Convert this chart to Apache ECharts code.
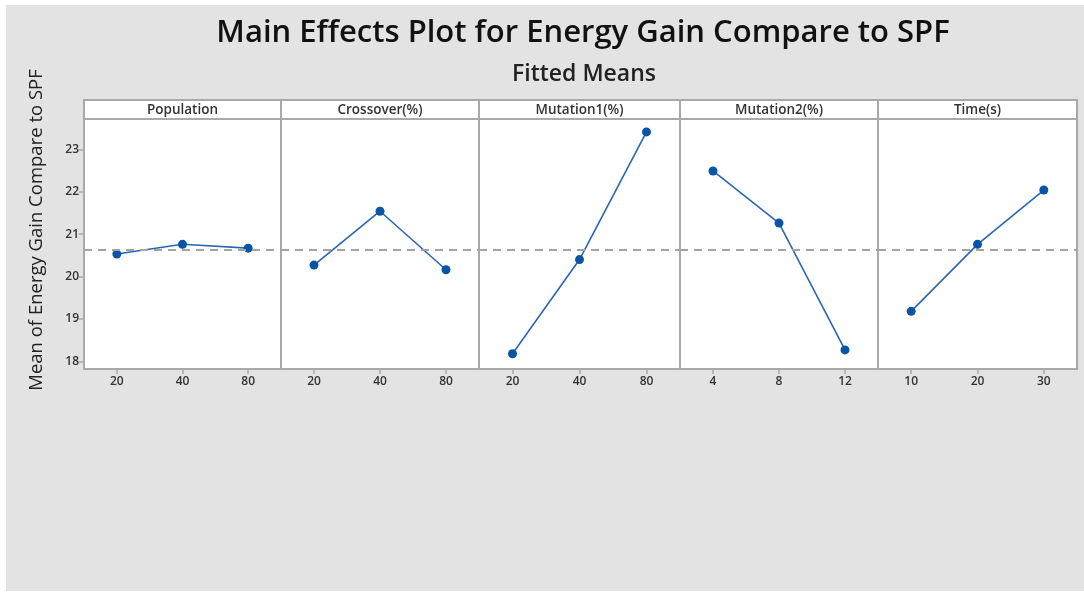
<!DOCTYPE html>
<html>
<head>
<meta charset="utf-8">
<script src="https://cdn.jsdelivr.net/npm/echarts@6/dist/echarts.min.js"></script>
<style>
html,body{margin:0;padding:0;background:#fff;}
#chart{width:1084px;height:592px;}
</style>
</head>
<body>
<div id="chart"></div>
<script>
const factorNames = ['Population', 'Crossover(%)', 'Mutation1(%)', 'Mutation2(%)', 'Time(s)'];
const populationLevels = ['20', '40', '80'];
const crossoverLevels = ['20', '40', '80'];
const mutation1Levels = ['20', '40', '80'];
const mutation2Levels = ['4', '8', '12'];
const timeLevels = ['10', '20', '30'];
const populationMeans = [20.53, 20.76, 20.67];
const crossoverMeans = [20.27, 21.54, 20.16];
const mutation1Means = [18.18, 20.40, 23.41];
const mutation2Means = [22.49, 21.26, 18.27];
const timeMeans = [19.18, 20.76, 22.04];
const overallMean = 20.63;
const yTicks = [18, 19, 20, 21, 22, 23];

const levels = [populationLevels, crossoverLevels, mutation1Levels, mutation2Levels, timeLevels];
const means = [populationMeans, crossoverMeans, mutation1Means, mutation2Means, timeMeans];

// layout (pixels)
const panelEdges = [84, 281, 479, 680, 878, 1077];
const plotTop = 119, plotBottom = 369, headerTop = 100;
const borderColor = '#a9a9a9';
const fontFam = '"Open Sans", "Noto Sans", sans-serif';

const grids = [], xAxes = [], yAxes = [], series = [], graphics = [];

graphics.push({
  type: 'rect', z: -10, silent: true,
  shape: { x: 6, y: 5, width: 1078, height: 586 },
  style: { fill: '#e3e3e3' }
});

for (let i = 0; i < 5; i++) {
  const left = panelEdges[i], w = panelEdges[i + 1] - panelEdges[i];
  grids.push({
    left: left, top: plotTop, width: w, height: plotBottom - plotTop,
    show: true, backgroundColor: '#fff', borderColor: borderColor, borderWidth: 2
  });
  xAxes.push({
    type: 'category', gridIndex: i, data: levels[i], boundaryGap: true,
    axisLine: { show: true, lineStyle: { color: borderColor, width: 2 } },
    axisTick: { show: true, alignWithLabel: true, length: 5, lineStyle: { color: borderColor, width: 1.5 } },
    axisLabel: { color: '#333', fontSize: 12, fontWeight: 600, fontFamily: fontFam, margin: 7 },
    splitLine: { show: false }
  });
  yAxes.push({
    type: 'value', gridIndex: i, min: 17.82, max: 23.715,
    axisLine: { show: i === 0, lineStyle: { color: borderColor, width: 2 } },
    axisTick: { show: i === 0, length: 5, customValues: yTicks, lineStyle: { color: borderColor, width: 1.5 } },
    axisLabel: { show: i === 0, customValues: yTicks, color: '#333', fontSize: 12, fontWeight: 600, fontFamily: fontFam, margin: 5 },
    splitLine: { show: false }
  });
  series.push({
    type: 'line', xAxisIndex: i, yAxisIndex: i, data: means[i],
    symbol: 'circle', symbolSize: 9,
    itemStyle: { color: '#0a54a5' },
    lineStyle: { color: '#2a66b4', width: 1.6 },
    markLine: {
      silent: true, symbol: 'none', label: { show: false },
      lineStyle: { color: '#a3a3a3', type: [8, 6], width: 2 },
      data: [{ yAxis: overallMean }]
    },
    z: 3
  });
  graphics.push({
    type: 'rect', silent: true,
    shape: { x: left, y: headerTop, width: w, height: plotTop - headerTop },
    style: { fill: '#fff', stroke: borderColor, lineWidth: 2 }
  });
  graphics.push({
    type: 'text', silent: true,
    x: left + w / 2, y: (headerTop + plotTop) / 2 + 0.5,
    style: { text: factorNames[i], fill: '#333', font: '600 13.5px ' + fontFam, textAlign: 'center', textVerticalAlign: 'middle' }
  });
}

graphics.push({
  type: 'text', silent: true, x: 37, y: 230, rotation: Math.PI / 2,
  style: { text: 'Mean of Energy Gain Compare to SPF', fill: '#222', font: '18.5px ' + fontFam, textAlign: 'center', textVerticalAlign: 'middle' }
});

const chart = echarts.init(document.getElementById('chart'));
chart.setOption({
  backgroundColor: '#fff',
  animation: false,
  title: [
    { text: 'Main Effects Plot for Energy Gain Compare to SPF', left: 578, top: 13, textAlign: 'center',
      textStyle: { fontSize: 31, fontWeight: 600, color: '#111', fontFamily: fontFam } },
    { text: 'Fitted Means', left: 579, top: 58, textAlign: 'center',
      textStyle: { fontSize: 23, fontWeight: 600, color: '#222', fontFamily: fontFam } }
  ],
  grid: grids, xAxis: xAxes, yAxis: yAxes, series: series,
  graphic: graphics
});
</script>
</body>
</html>
